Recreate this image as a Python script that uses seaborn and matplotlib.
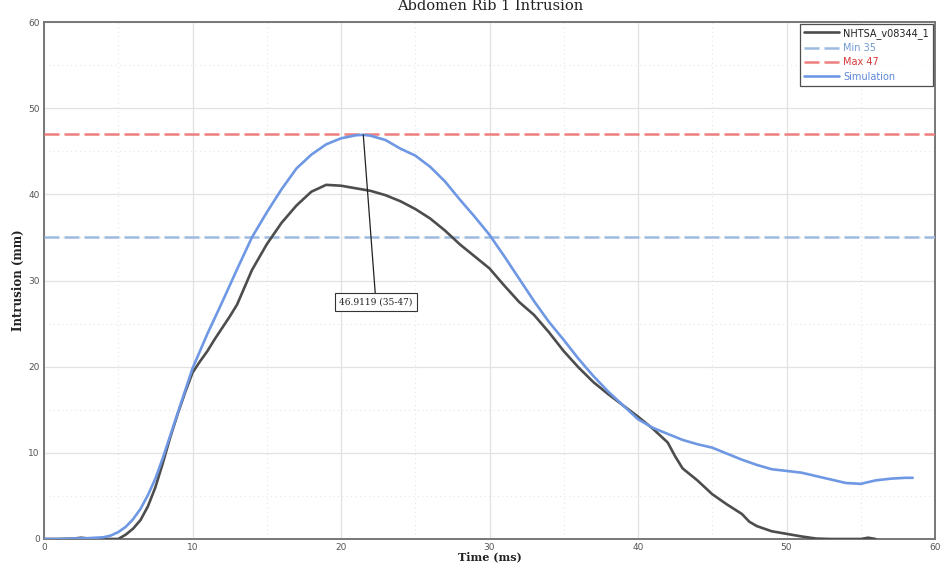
import matplotlib
matplotlib.use("Agg")
import matplotlib.pyplot as plt
from matplotlib.ticker import MultipleLocator
import seaborn as sns
import pandas as pd

# Test curve (NHTSA)
test_time = [0, 1, 2, 2.5, 3, 4, 5, 5.5, 6, 6.5, 7, 7.5, 8, 8.5, 9, 9.5, 10, 10.5, 11,
             11.5, 12, 12.5, 13, 14, 15, 16, 17, 18, 19, 20, 21, 22, 23, 24, 25, 26, 27,
             28, 29, 30, 31, 32, 33, 34, 35, 36, 37, 38, 39, 40, 41, 42, 42.5, 43,
             44, 45, 46, 47, 47.5, 48, 49, 50, 51, 52, 53, 54, 55, 55.5, 56]
test_intrusion = [0, 0, 0.05, 0.15, 0.05, 0, 0, 0.5, 1.2, 2.2, 3.8, 6.0, 8.8, 11.8, 14.5,
                  17.0, 19.3, 20.6, 21.8, 23.2, 24.5, 25.8, 27.2, 31.2, 34.2, 36.7, 38.7,
                  40.3, 41.1, 41.0, 40.7, 40.4, 39.9, 39.2, 38.3, 37.2, 35.8, 34.2, 32.8,
                  31.4, 29.4, 27.5, 26.0, 24.0, 21.8, 19.9, 18.2, 16.8, 15.5, 14.2, 12.8,
                  11.2, 9.6, 8.2, 6.8, 5.2, 4.0, 2.9, 2.0, 1.5, 0.9, 0.6, 0.3, 0.05, 0, 0,
                  0, 0.15, 0]

# Simulation curve
sim_time = [0, 1, 2, 3, 4, 4.5, 5, 5.5, 6, 6.5, 7, 7.5, 8, 8.5, 9, 10, 11, 12, 13, 14,
            15, 16, 17, 18, 19, 20, 21, 21.5, 22, 23, 24, 25, 26, 27, 28, 29, 30, 31,
            32, 33, 34, 35, 36, 37, 38, 39, 40, 41, 42, 43, 44, 45, 46, 47, 48, 49,
            50, 51, 52, 53, 54, 55, 56, 57, 58, 58.5]
sim_intrusion = [0, 0, 0.05, 0.1, 0.2, 0.4, 0.8, 1.4, 2.3, 3.5, 5.1, 7.0, 9.4, 12.0, 14.6,
                 19.8, 23.8, 27.5, 31.3, 35.0, 37.9, 40.6, 43.0, 44.6, 45.8, 46.5, 46.85,
                 46.9119, 46.8, 46.3, 45.3, 44.5, 43.2, 41.5, 39.4, 37.4, 35.3, 32.8,
                 30.2, 27.6, 25.2, 23.1, 20.9, 18.9, 17.1, 15.5, 13.9, 12.9, 12.2, 11.5,
                 11.0, 10.6, 9.9, 9.2, 8.6, 8.1, 7.9, 7.7, 7.3, 6.9, 6.5, 6.4, 6.8, 7.0,
                 7.1, 7.1]

limit_labels = ["Min 35", "Max 47"]
limit_values = [35, 47]
peak_label = "46.9119 (35-47)"

title = "Abdomen Rib 1 Intrusion"
x_label = "Time (ms)"
y_label = "Intrusion (mm)"

test_color = "#4d4d4d"
sim_color = "#6f98e4"
limit_colors = ["#9dbbe0", "#ee7e7e"]
legend_text_colors = ["#222222", "#6f9ad0", "#d63a3a", "#5c86d6"]

sns.set_theme(style="white")
plt.rcParams["font.family"] = ["DejaVu Sans"]

fig = plt.figure(figsize=(9.42, 5.63), dpi=100)
ax = fig.add_axes([44 / 942, 1 - 539 / 563, (935 - 44) / 942, (539 - 22) / 563])

test_df = pd.DataFrame({"t": test_time, "v": test_intrusion})
sim_df = pd.DataFrame({"t": sim_time, "v": sim_intrusion})

sns.lineplot(data=test_df, x="t", y="v", ax=ax, color=test_color, lw=1.9,
             label="NHTSA_v08344_1", zorder=4)
for lab, val, col in zip(limit_labels, limit_values, limit_colors):
    ax.axhline(val, color=col, lw=1.8, dashes=(6, 2), label=lab, zorder=3)
sns.lineplot(data=sim_df, x="t", y="v", ax=ax, color=sim_color, lw=1.9,
             label="Simulation", zorder=5)

ax.set_xlim(0, 60)
ax.set_ylim(0, 60)
ax.xaxis.set_major_locator(MultipleLocator(10))
ax.yaxis.set_major_locator(MultipleLocator(10))
ax.xaxis.set_minor_locator(MultipleLocator(5))
ax.yaxis.set_minor_locator(MultipleLocator(5))
ax.grid(which="major", color="#e2e2e2", lw=0.9)
ax.grid(which="minor", color="#e6e6e6", lw=0.8, ls=(0, (1, 3)))
ax.set_axisbelow(True)

for sp in ax.spines.values():
    sp.set_color("#777777")
    sp.set_linewidth(1.4)

ax.tick_params(axis="both", which="major", labelsize=6.5, colors="#555555",
               length=2, width=0.8, direction="out", pad=1)
ax.tick_params(axis="both", which="minor", length=0)

ax.set_xlabel(x_label, family="DejaVu Serif", fontsize=8, fontweight="bold",
              color="#222222")
ax.set_ylabel(y_label, family="DejaVu Serif", fontsize=8.5, fontweight="bold",
              color="#222222")
ax.xaxis.set_label_coords(0.5, -0.0235)
ax.yaxis.set_label_coords(-0.021, 0.5)
fig.text(0.52, 1 - 6 / 563, title, family="DejaVu Serif", fontsize=10.5,
         ha="center", va="center", color="#222222")

# Peak annotation on the simulation curve
peak_idx = sim_intrusion.index(max(sim_intrusion))
ax.annotate(peak_label, xy=(sim_time[peak_idx], sim_intrusion[peak_idx]),
            xytext=(22.35, 27.5), ha="center", va="center", fontsize=6.5,
            family="DejaVu Serif", color="#222222",
            bbox=dict(boxstyle="square,pad=0.45", fc="white", ec="#333333", lw=0.8),
            arrowprops=dict(arrowstyle="-", color="#222222", lw=0.9,
                            shrinkA=0, shrinkB=0),
            zorder=6)

leg = ax.legend(loc="upper right", fontsize=7, frameon=True, fancybox=False,
                edgecolor="#222222", borderaxespad=0.2, handlelength=3.6,
                labelspacing=0.45, borderpad=0.4, handletextpad=0.5)
leg.get_frame().set_linewidth(0.9)
for txt, col in zip(leg.get_texts(), legend_text_colors):
    txt.set_color(col)

fig.savefig("out.png", dpi=100)
